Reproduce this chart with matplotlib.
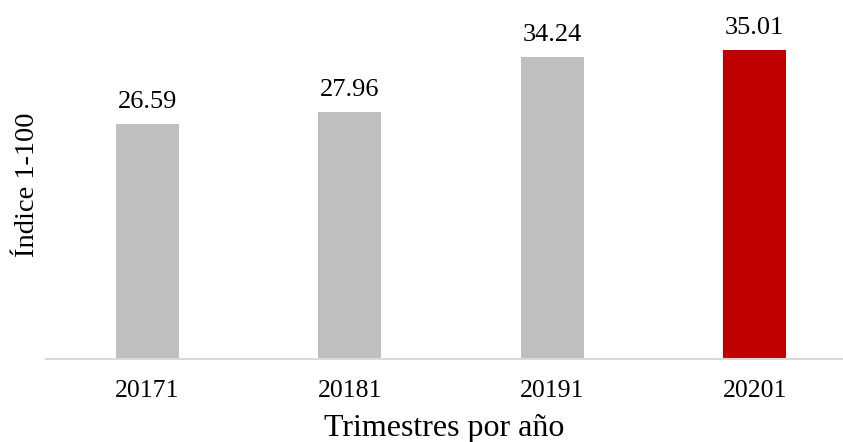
import matplotlib
matplotlib.use("Agg")
import matplotlib.pyplot as plt

categories = ["20171", "20181", "20191", "20201"]
values = [26.59, 27.96, 34.24, 35.01]
colors = ["#bfbfbf", "#bfbfbf", "#bfbfbf", "#c00000"]

plt.rcParams['font.family'] = ['Liberation Serif', 'DejaVu Serif']

W, H = 843, 442
fig = plt.figure(figsize=(W/100, H/100), dpi=100)
left, bottom, top = 46, 359, 0
ax = fig.add_axes([left/W, (H-bottom)/H, (W-left)/W, (bottom-top)/H])

x = range(len(categories))
bars = ax.bar(x, values, width=0.311, color=colors, zorder=2)
for xi, v in zip(x, values):
    ax.annotate(f"{v:.2f}", (xi, v), xytext=(0, 8), textcoords="offset points",
                ha="center", va="bottom", fontsize=19)

ax.set_xlim(-0.5, 3.5 - 13/202.5)
ax.set_ylim(0, 40.7)
ax.set_xticks(list(x))
ax.set_xticklabels(categories, fontsize=18.5)
ax.tick_params(axis='x', length=0, pad=15)
ax.set_yticks([])
for s in ["top", "right", "left"]:
    ax.spines[s].set_visible(False)
ax.spines["bottom"].set_color("#d9d9d9")
ax.spines["bottom"].set_linewidth(1.5)
ax.set_xlabel("Trimestres por año", fontsize=23, labelpad=9)
fig.text(27/W, 1 - 185/H, "Índice 1-100", rotation=90, ha="center", va="center",
         fontsize=20.5)

fig.savefig("out.png", dpi=100)
